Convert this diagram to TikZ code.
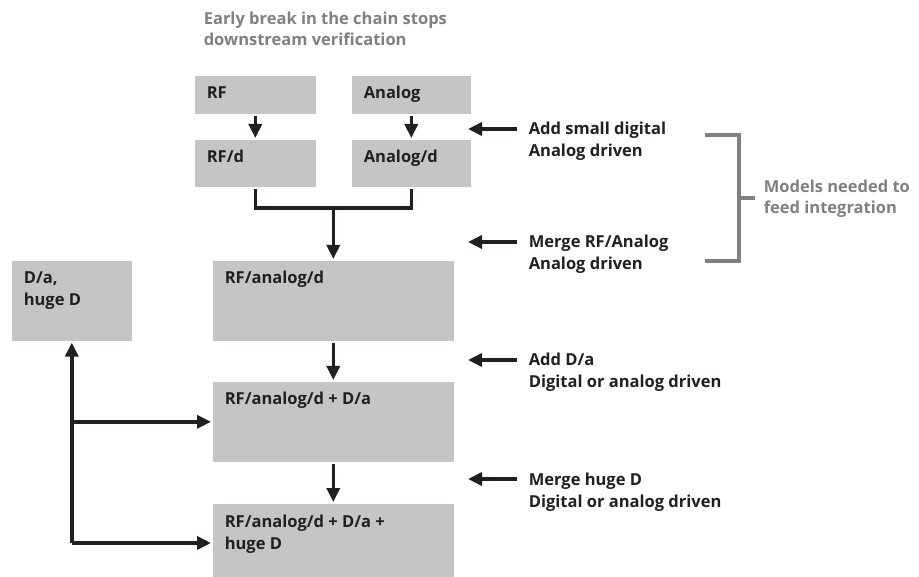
\documentclass[tikz,border=0pt]{standalone}
\usepackage{fontspec}
\setmainfont{Open Sans}
\usetikzlibrary{arrows.meta,positioning}
\definecolor{boxgray}{RGB}{196,197,199}
\definecolor{txtgray}{RGB}{128,128,130}
\definecolor{ink}{RGB}{35,31,32}
\newcommand{\toplines}[1]{\begin{tabular}[t]{@{}l@{}}#1\end{tabular}}

\begin{document}
\begin{tikzpicture}
  [
  x=1pt, y=-1pt,
  font=\fontsize{16.5}{22}\selectfont\bfseries,
  line width=3.6pt, draw=ink, >={Triangle[length=14pt,width=13pt]},
  block/.style={rectangle, fill=boxgray, anchor=north west, inner sep=0pt},
  blocktext/.style={anchor=base west, inner sep=0pt, text=ink},
  note/.style={anchor=base west, inner sep=0pt, text=ink},
  remark/.style={anchor=base west, inner sep=0pt, text=txtgray,
    font=\fontsize{16.5}{21}\selectfont\bfseries},
  bracket/.style={draw=txtgray, line width=3.4pt},
  ]
  \useasboundingbox (0,0) rectangle (919,577);

  % the blocks
  \foreach \n/\x/\y/\w/\h in {rf/193/74/121/38, ana/350/74/119/38,
    rfd/193/138/121/47, anad/350/138/119/47, da/10/259/120/80,
    rad/211/259/241/80, radda/211/380/241/80, all/211/502/241/75} {
    \node[block, minimum width=\w pt, minimum height=\h pt] (\n) at (\x,\y) {};
  }

  \foreach \n/\t in {rf/{RF}, ana/{Analog}, rfd/{RF/d}, anad/{Analog/d},
    da/{D/a,\\huge D}, rad/{RF/analog/d}, radda/{RF/analog/d + D/a},
    all/{RF/analog/d + D/a +\\huge D}} {
    \node[blocktext] (\n-t) at ([shift={(12,25)}]\n.north west) {\toplines{\t}};
  }

  \node[remark] (title) at (202,25)
    {\toplines{Early break in the chain stops\\downstream verification}};

  % flow
  \draw[->, ink] (rf) -- (rfd);
  \draw[->, ink] (ana) -- (anad);
  \coordinate (join) at (rad.north |- 0,208);
  \draw[ink] (rfd.south) |- (join) -| (anad.south);
  \draw[->, ink] (join) -- (rad.north);
  \draw[->, ink] (rad) -- (radda);
  \draw[->, ink] (radda) -- (all);

  % feedback from the big blocks
  \coordinate (corner) at (da.south |- 0,543);
  \draw[->, ink] (corner) -- (da.south);
  \draw[->, ink] (corner) -- (corner -| all.west);
  \draw[->, ink] (da.south |- radda.west) -- (radda.west);

  % notes on the right
  \foreach \y/\t [count=\i] in {135/{Add small digital\\Analog driven},
    248/{Merge RF/Analog\\Analog driven},
    366/{Add D/a\\Digital or analog driven},
    485/{Merge huge D\\Digital or analog driven}} {
    \node[note] (note\i) at (527,\y) {\toplines{\t}};
    \draw[->, ink] ([shift={(-10,-6)}]note\i.base west) -- ([shift={(-59,-6)}]note\i.base west);
  }

  % bracket
  \coordinate (btop) at (705,135);
  \coordinate (bbot) at (705,261);
  \coordinate (bmid) at (739,198);
  \node[remark, anchor=west] (models) at (762,199)
    {\toplines{Models needed to\\feed integration}};
  \draw[bracket] (btop) -- (bmid |- btop) -- (bmid |- bbot) -- (bbot);
  \draw[bracket] (bmid) -- ([xshift=-7pt]models.west |- bmid);
\end{tikzpicture}
\end{document}
